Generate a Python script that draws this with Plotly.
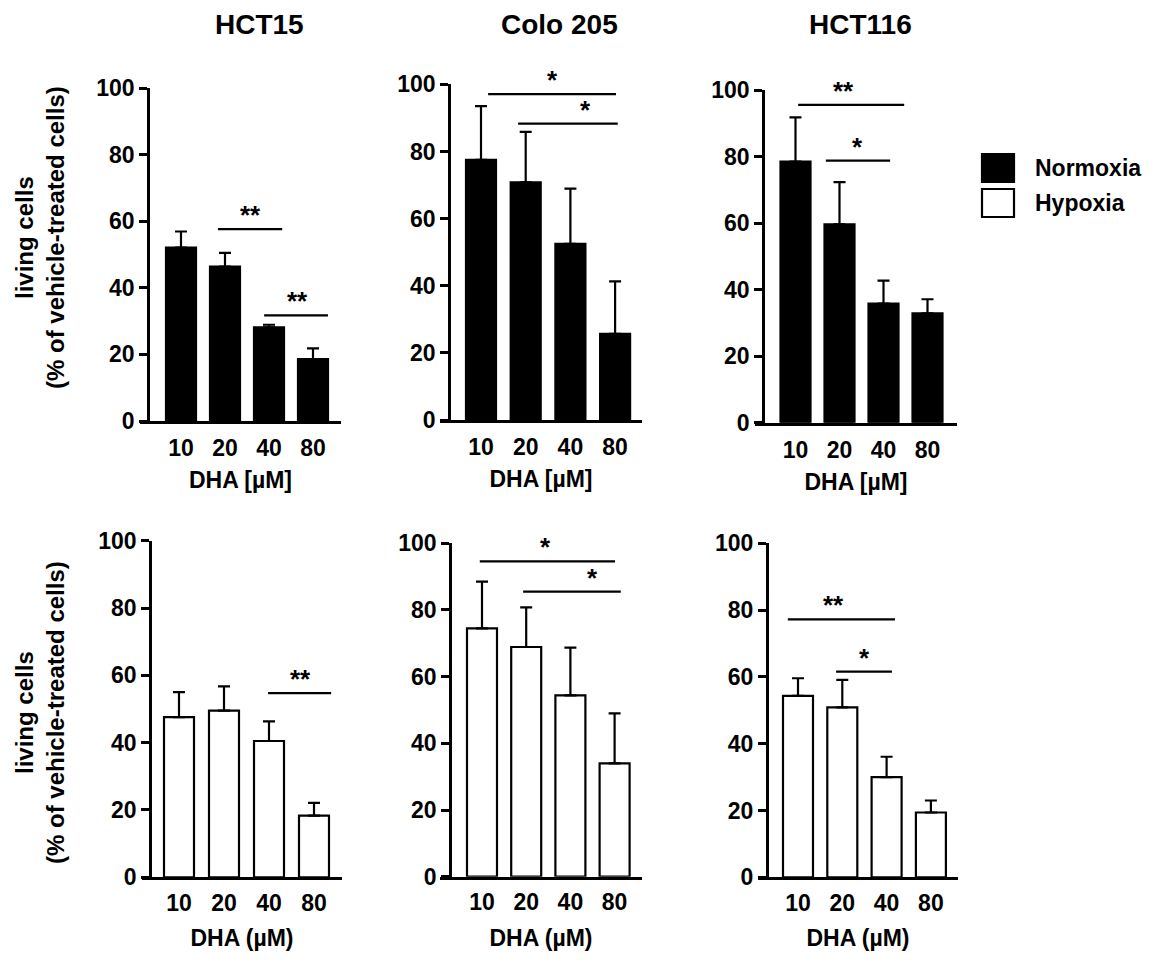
import plotly.graph_objects as go

W, H = 1155, 962
OFF = 8  # page body margin in the browser, compensated so positions match

# ---------------- data ----------------
doses = ["10", "20", "40", "80"]
cell_lines = ["HCT15", "Colo 205", "HCT116"]

hct15_norm = [52.1, 46.4, 28.1, 18.6]
hct15_norm_err = [4.8, 4.1, 0.8, 3.2]
colo205_norm = [77.5, 70.8, 52.5, 25.7]
colo205_norm_err = [16.0, 15.0, 16.4, 15.6]
hct116_norm = [78.5, 59.6, 35.8, 32.9]
hct116_norm_err = [13.3, 12.7, 6.9, 4.2]

hct15_hyp = [47.6, 49.5, 40.5, 18.3]
hct15_hyp_err = [7.4, 7.2, 5.8, 3.8]
colo205_hyp = [74.5, 68.9, 54.4, 34.0]
colo205_hyp_err = [14.0, 11.9, 14.3, 15.0]
hct116_hyp = [54.3, 50.9, 30.0, 19.4]
hct116_hyp_err = [5.3, 8.2, 6.1, 3.6]

# significance brackets: (x start, x end, y level, label, label x) in category units
hct15_norm_sig = [(0.84, 2.30, 57.6, "**", 1.57), (1.89, 3.34, 31.7, "**", 2.65)]
colo205_norm_sig = [(0.16, 3.02, 97.1, "*", 1.61), (0.83, 3.06, 88.3, "*", 2.33)]
hct116_norm_sig = [(0.06, 2.47, 95.5, "**", 1.08), (0.69, 2.15, 78.8, "*", 1.40)]
hct15_hyp_sig = [(1.98, 3.38, 54.7, "**", 2.69)]
colo205_hyp_sig = [(-0.05, 3.01, 94.6, "*", 1.43), (0.93, 3.14, 85.5, "*", 2.49)]
hct116_hyp_sig = [(-0.23, 2.19, 77.2, "**", 0.79), (0.86, 2.12, 61.6, "*", 1.51)]

legend_labels = ["Normoxia", "Hypoxia"]
yticks = [0, 20, 40, 60, 80, 100]
ytitle = "living cells<br>(% of vehicle-treated cells)"
xtitle_top = "DHA [µM]"
xtitle_bottom = "DHA (µM)"

# ---------------- layout geometry (pixels) ----------------
# (x-axis start, x-axis end, y-axis x, y=100 px, y=0 px, first bar center, bar spacing)
panels = [
    dict(vals=hct15_norm, err=hct15_norm_err, sig=hct15_norm_sig, hyp=False,
         geo=(140, 341, 148, 88, 421, 181, 44.0)),
    dict(vals=colo205_norm, err=colo205_norm_err, sig=colo205_norm_sig, hyp=False,
         geo=(440, 642, 449, 84.3, 420, 481, 44.7)),
    dict(vals=hct116_norm, err=hct116_norm_err, sig=hct116_norm_sig, hyp=False,
         geo=(755, 957, 763, 90, 422.7, 795.5, 44.0)),
    dict(vals=hct15_hyp, err=hct15_hyp_err, sig=hct15_hyp_sig, hyp=True,
         geo=(142, 342, 150, 540.7, 877.3, 179, 45.0)),
    dict(vals=colo205_hyp, err=colo205_hyp_err, sig=colo205_hyp_sig, hyp=True,
         geo=(440, 642, 450, 543.3, 876.7, 482, 44.2)),
    dict(vals=hct116_hyp, err=hct116_hyp_err, sig=hct116_hyp_sig, hyp=True,
         geo=(758, 958, 766.7, 543.3, 877.3, 798, 44.3)),
]


def px(xp):
    return (xp - OFF) / W


def py(yp):
    return 1 - (yp - OFF) / H


FONT = "Liberation Sans, Arial, Helvetica, sans-serif"
fig = go.Figure()
layout = dict(
    template="none",
    width=W, height=H,
    margin=dict(l=0, r=0, t=0, b=0, pad=0, autoexpand=False),
    paper_bgcolor="white", plot_bgcolor="white",
    showlegend=False,
    font=dict(family=FONT, size=23, color="black", weight="bold"),
    shapes=[], annotations=[],
)

for i, p in enumerate(panels):
    xs, xe, yx, y100, y0, c0, sp = p["geo"]
    k = "" if i == 0 else str(i + 1)
    xa, ya = "x" + k, "y" + k
    r0 = -(c0 - xs) / sp
    r1 = r0 + (xe - xs) / sp
    hyp = p["hyp"]
    fig.add_trace(go.Bar(
        x=list(range(len(doses))), y=p["vals"],
        width=30 / sp,
        marker=dict(color="white" if hyp else "black",
                    line=dict(color="black", width=2.2)),
        error_y=dict(type="data", array=p["err"], arrayminus=[0] * len(doses),
                     symmetric=False, color="black", thickness=2.2, width=6),
        xaxis=xa, yaxis=ya, showlegend=False,
    ))
    layout["xaxis" + k] = dict(
        domain=[px(xs), px(xe)], range=[r0, r1], anchor=ya, automargin=False,
        tickmode="array", tickvals=list(range(len(doses))), ticktext=doses,
        showline=True, linecolor="black", linewidth=2.5,
        ticks="outside", ticklen=3 if hyp else 5, tickcolor="rgba(0,0,0,0)",
        showgrid=False, zeroline=False, fixedrange=True,
        tickfont=dict(size=23, family=FONT, weight="bold"),
        title=dict(text=xtitle_bottom if hyp else xtitle_top,
                   font=dict(size=23, family=FONT, weight="bold"),
                   standoff=16 if hyp else 12),
    )
    layout["yaxis" + k] = dict(
        domain=[py(y0), py(y100)], range=[0, 100], automargin=False,
        anchor="free", position=px(yx),
        tickmode="array", tickvals=yticks,
        showline=True, linecolor="black", linewidth=2.5,
        ticks="outside", ticklen=8, tickwidth=2.5, tickcolor="black",
        showgrid=False, zeroline=False, fixedrange=True,
        tickfont=dict(size=23, family=FONT, weight="bold"),
    )
    for (sx0, sx1, sy, lab, lx) in p["sig"]:
        layout["shapes"].append(dict(type="line", xref=xa, yref=ya,
                                     x0=sx0, x1=sx1, y0=sy, y1=sy,
                                     line=dict(color="black", width=2.2)))
        layout["annotations"].append(dict(xref=xa, yref=ya, x=lx, y=sy, text=lab,
                                          showarrow=False, yanchor="bottom",
                                          yshift=-3,
                                          font=dict(size=26, family=FONT, weight="bold")))

# column titles
for name, cx in zip(cell_lines, [259, 559, 860]):
    layout["annotations"].append(dict(xref="paper", yref="paper", x=px(cx), y=py(24),
                                      text=name, showarrow=False,
                                      xanchor="center", yanchor="middle",
                                      font=dict(size=28, family=FONT, weight="bold")))

# y axis titles
for cy in [238, 713]:
    layout["annotations"].append(dict(xref="paper", yref="paper", x=px(40), y=py(cy),
                                      text=ytitle, showarrow=False, textangle=-90,
                                      xanchor="center", yanchor="middle", borderpad=0,
                                      font=dict(size=24, family=FONT, weight="bold")))

# legend (boxes + labels)
for lab, (bt, bb), fill in zip(legend_labels, [(154, 182), (189, 217)], ["black", "white"]):
    layout["shapes"].append(dict(type="rect", xref="paper", yref="paper",
                                 x0=px(982), x1=px(1014), y0=py(bb), y1=py(bt),
                                 fillcolor=fill, line=dict(color="black", width=2.2)))
    layout["annotations"].append(dict(xref="paper", yref="paper", x=px(1033),
                                      y=py((bt + bb) / 2), text=lab, showarrow=False,
                                      xanchor="left", yanchor="middle",
                                      font=dict(size=23, family=FONT, weight="bold")))

fig.update_layout(**layout)
fig.write_html("out.html")
